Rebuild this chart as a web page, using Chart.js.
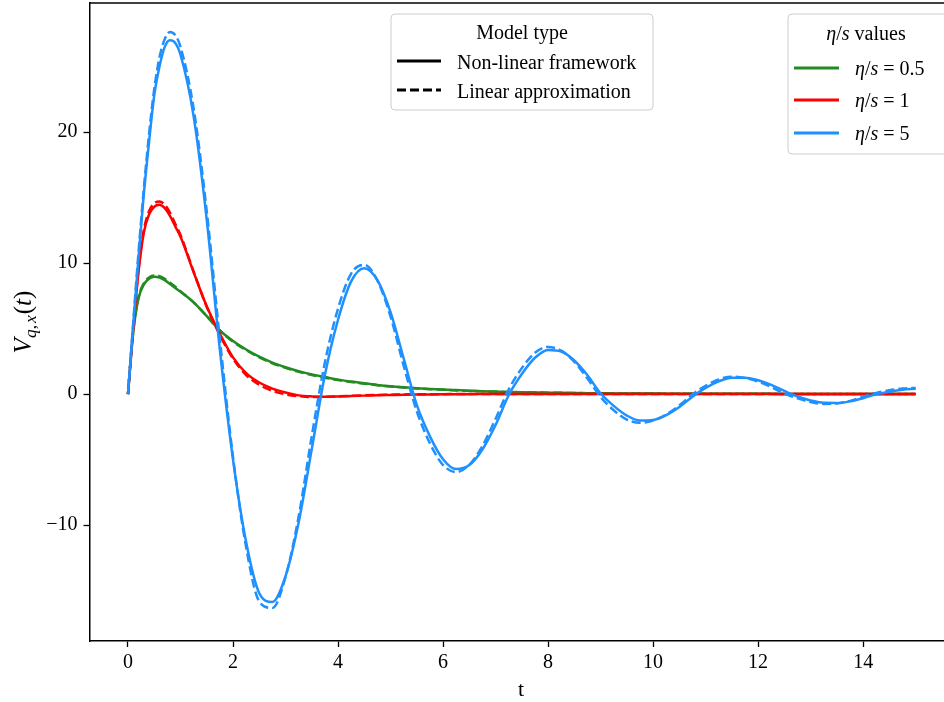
<!DOCTYPE html>
<html>
<head>
<meta charset="utf-8">
<script src="https://cdn.jsdelivr.net/npm/chart.js@4.4.1/dist/chart.umd.min.js"></script>
<style>
  html, body { margin: 0; padding: 0; background: #fff; }
  #wrap { width: 944px; height: 702px; }
</style>
</head>
<body>
<div id="wrap"><canvas id="responseChart" width="944" height="702"></canvas></div>
<script>
// time samples (denser near t = 0 where the curves rise fast)
const tValues = [
    0, 0.1, 0.2, 0.3, 0.4, 0.5, 0.6, 0.7, 0.8, 0.9, 1.0,
    1.25, 1.5, 1.75, 2.0,
    2.25, 2.5, 2.75, 3.0,
    3.25, 3.5, 3.75, 4.0,
    4.25, 4.5, 4.75, 5.0,
    5.25, 5.5, 5.75, 6.0,
    6.25, 6.5, 6.75, 7.0,
    7.25, 7.5, 7.75, 8.0,
    8.25, 8.5, 8.75, 9.0,
    9.25, 9.5, 9.75, 10.0,
    10.25, 10.5, 10.75, 11.0,
    11.25, 11.5, 11.75, 12.0,
    12.25, 12.5, 12.75, 13.0,
    13.25, 13.5, 13.75, 14.0,
    14.25, 14.5, 14.75, 15.0
];

// eta/s = 0.5
const nonLinear05 = [
    0, 4.7, 7.3, 8.35, 8.8, 8.95, 8.9, 8.7, 8.4, 8.1, 7.8,
    7.0, 5.95, 4.85, 4.05,
    3.4, 2.85, 2.4, 2.05,
    1.75, 1.5, 1.3, 1.1,
    0.95, 0.82, 0.7, 0.6,
    0.52, 0.45, 0.39, 0.34,
    0.3, 0.26, 0.22, 0.19,
    0.16, 0.14, 0.12, 0.1,
    0.09, 0.08, 0.07, 0.06,
    0.05, 0.045, 0.04, 0.035,
    0.03, 0.03, 0.025, 0.02,
    0.02, 0.02, 0.015, 0.015,
    0.015, 0.01, 0.01, 0.01,
    0.01, 0.01, 0.005, 0.005,
    0.005, 0.005, 0.005, 0.005
];
const linear05 = [
    0, 4.8, 7.4, 8.45, 8.9, 9.05, 9.0, 8.8, 8.5, 8.2, 7.85,
    7.0, 5.95, 4.85, 4.0,
    3.35, 2.8, 2.35, 2.0,
    1.7, 1.45, 1.25, 1.07,
    0.92, 0.79, 0.68, 0.58,
    0.5, 0.43, 0.37, 0.33,
    0.28, 0.24, 0.21, 0.18,
    0.16, 0.14, 0.12, 0.1,
    0.09, 0.08, 0.07, 0.06,
    0.05, 0.045, 0.04, 0.035,
    0.03, 0.03, 0.025, 0.02,
    0.02, 0.02, 0.015, 0.015,
    0.015, 0.01, 0.01, 0.01,
    0.01, 0.01, 0.005, 0.005,
    0.005, 0.005, 0.005, 0.005
];

// eta/s = 1
const nonLinear1 = [
    0, 5.0, 9.3, 12.3, 13.7, 14.3, 14.45, 14.2, 13.6, 12.8, 12.0,
    9.3, 6.7, 4.6, 2.8,
    1.6, 0.88, 0.42, 0.12,
    -0.1, -0.18, -0.2, -0.18,
    -0.15, -0.12, -0.09, -0.07,
    -0.05, -0.04, -0.03, -0.02,
    -0.01, -0.01, 0, 0,
    0, 0, 0, 0,
    0, 0, 0, 0,
    0, 0, 0, 0,
    0, 0, 0, 0,
    0, 0, 0, 0,
    0, 0, 0, 0,
    0, 0, 0, 0,
    0, 0, 0, 0
];
const linear1 = [
    0, 5.1, 9.5, 12.5, 13.95, 14.55, 14.7, 14.45, 13.85, 13.0, 12.15,
    9.35, 6.65, 4.5, 2.7,
    1.45, 0.7, 0.25, -0.02,
    -0.16, -0.22, -0.21, -0.18,
    -0.14, -0.1, -0.07, -0.05,
    -0.03, -0.02, -0.01, -0.01,
    0, 0, 0, 0,
    0, 0, 0, 0,
    0, 0, 0, 0,
    0, 0, 0, 0,
    0, 0, 0, 0,
    0, 0, 0, 0,
    0, 0, 0, 0,
    0, 0, 0, 0,
    0, 0, 0, 0
];

// eta/s = 5
const nonLinear5 = [
    0, 5.3, 10.4, 15.2, 19.2, 22.8, 25.0, 26.5, 27.0, 26.8, 25.9,
    21.2, 13.3, 3.35, -5.0,
    -11.3, -15.2, -15.87, -13.9,
    -9.8, -4.2, 1.46, 5.67,
    8.6, 9.6, 8.69, 6.25,
    2.72, -0.83, -3.23, -4.98,
    -5.73, -5.42, -4.23, -2.36,
    -0.09, 1.53, 2.77, 3.37,
    3.25, 2.56, 1.43, 0.06,
    -0.9, -1.64, -2.02, -1.98,
    -1.61, -0.99, -0.2, 0.47,
    0.97, 1.25, 1.25, 1.05,
    0.7, 0.24, -0.19, -0.49,
    -0.67, -0.68, -0.56, -0.32,
    -0.02, 0.18, 0.33, 0.4
];
const linear5 = [
    0, 5.5, 10.8, 15.6, 19.8, 23.3, 25.7, 27.1, 27.64, 27.4, 26.5,
    21.8, 13.95, 4.16, -4.8,
    -11.7, -15.84, -16.33, -13.96,
    -9.35, -3.2, 2.41, 6.52,
    9.2, 9.86, 8.66, 5.92,
    2.16, -1.31, -3.76, -5.42,
    -5.95, -5.39, -3.96, -1.9,
    0.35, 1.98, 3.15, 3.6,
    3.31, 2.46, 1.18, -0.22,
    -1.24, -1.95, -2.2, -2.03,
    -1.56, -0.86, -0.02, 0.63,
    1.12, 1.32, 1.23, 0.96,
    0.54, 0.04, -0.33, -0.61,
    -0.75, -0.72, -0.52, -0.2,
    0.09, 0.29, 0.42, 0.47
];

const etaValues = ['0.5', '1', '5'];
const modelTypes = ['Non-linear framework', 'Linear approximation'];
const xTicks = [0, 2, 4, 6, 8, 10, 12, 14];
const yTicks = [-10, 0, 10, 20];

const lineColors = ['#228b22', '#ff0000', '#1e90ff'];
const dashPattern = [9, 4];
const serif = "'Liberation Serif', 'DejaVu Serif', serif";

function seriesPoints(values) {
    return tValues.map((t, i) => ({ x: t, y: values[i] }));
}

function makeLine(values, color, dashed, order) {
    return {
        data: seriesPoints(values),
        borderColor: color,
        borderWidth: 2.5,
        borderDash: dashed ? dashPattern : [],
        pointRadius: 0,
        fill: false,
        cubicInterpolationMode: 'monotone',
        order: order
    };
}

// runs of text with italic / sub parts (mathtext look)
function runsWidth(ctx, runs) {
    let w = 0;
    runs.forEach(r => {
        ctx.font = (r.italic ? 'italic ' : '') + r.size + 'px ' + serif;
        w += ctx.measureText(r.text).width + (r.gap || 0);
    });
    return w;
}

function drawRuns(ctx, runs, x, y) {
    let cx = x;
    runs.forEach(r => {
        ctx.font = (r.italic ? 'italic ' : '') + r.size + 'px ' + serif;
        ctx.fillText(r.text, cx, y + (r.dy || 0));
        cx += ctx.measureText(r.text).width + (r.gap || 0);
    });
}

function legendBox(ctx, x, y, w, h) {
    const r = 4;
    ctx.save();
    ctx.beginPath();
    ctx.moveTo(x + r, y);
    ctx.arcTo(x + w, y, x + w, y + h, r);
    ctx.arcTo(x + w, y + h, x, y + h, r);
    ctx.arcTo(x, y + h, x, y, r);
    ctx.arcTo(x, y, x + w, y, r);
    ctx.closePath();
    ctx.fillStyle = 'rgba(255,255,255,0.8)';
    ctx.fill();
    ctx.strokeStyle = '#cccccc';
    ctx.lineWidth = 1;
    ctx.stroke();
    ctx.restore();
}

function sampleLine(ctx, x1, x2, y, color, dashed) {
    ctx.save();
    ctx.beginPath();
    ctx.setLineDash(dashed ? dashPattern : []);
    ctx.strokeStyle = color;
    ctx.lineWidth = 3;
    ctx.moveTo(x1, y);
    ctx.lineTo(x2, y);
    ctx.stroke();
    ctx.restore();
}

function etaRuns(tail, size) {
    return [
        { text: 'η', italic: true, size: size },
        { text: '/', size: size },
        { text: 's', italic: true, size: size },
        { text: tail, size: size }
    ];
}

const decorPlugin = {
    id: 'decor',
    afterDraw(chart) {
        const ctx = chart.ctx;
        const area = chart.chartArea;
        ctx.save();

        // top spine
        ctx.strokeStyle = '#000';
        ctx.lineWidth = 1.5;
        ctx.beginPath();
        ctx.moveTo(area.left, area.top);
        ctx.lineTo(area.right, area.top);
        ctx.stroke();

        ctx.textBaseline = 'alphabetic';

        // legend: model type
        legendBox(ctx, 391, 14, 262, 96);
        ctx.fillStyle = '#000';
        ctx.textAlign = 'center';
        ctx.font = '20px ' + serif;
        ctx.fillText('Model type', 522, 39);
        ctx.textAlign = 'left';
        sampleLine(ctx, 397, 441, 61, '#000', false);
        sampleLine(ctx, 397, 441, 90, '#000', true);
        ctx.fillStyle = '#000';
        ctx.font = '20px ' + serif;
        ctx.fillText(modelTypes[0], 457, 69);
        ctx.fillText(modelTypes[1], 457, 98);

        // legend: eta/s values
        legendBox(ctx, 788, 14, 160, 140);
        ctx.fillStyle = '#000';
        const title = etaRuns(' values', 20);
        drawRuns(ctx, title, 866 - runsWidth(ctx, title) / 2, 40);
        const rowY = [68, 100, 133];
        etaValues.forEach((v, i) => {
            sampleLine(ctx, 794, 839, rowY[i], lineColors[i], false);
            ctx.fillStyle = '#000';
            const runs = etaRuns('', 20).concat([
                { text: ' = ', size: 20 },
                { text: v, size: 20 }
            ]);
            drawRuns(ctx, runs, 855, rowY[i] + 7);
        });

        // x axis title
        ctx.textAlign = 'center';
        ctx.font = '22px ' + serif;
        ctx.fillText('t', 521, 696);

        // y axis title V_{q,x}(t)
        ctx.textAlign = 'left';
        ctx.translate(31, 322);
        ctx.rotate(-Math.PI / 2);
        const yRuns = [
            { text: 'V', italic: true, size: 25 },
            { text: 'q', italic: true, size: 17.5, dy: 5 },
            { text: ',', size: 17.5, dy: 5, gap: 2 },
            { text: 'x', italic: true, size: 17.5, dy: 5, gap: 1 },
            { text: '(', size: 25 },
            { text: 't', italic: true, size: 25 },
            { text: ')', size: 25 }
        ];
        drawRuns(ctx, yRuns, -runsWidth(ctx, yRuns) / 2, 0);

        ctx.restore();
    }
};

const tickFont = { family: serif, size: 20 };

new Chart(document.getElementById('responseChart'), {
    type: 'line',
    data: {
        datasets: [
            makeLine(nonLinear05, lineColors[0], false, 5),
            makeLine(linear05, lineColors[0], true, 4),
            makeLine(nonLinear1, lineColors[1], false, 3),
            makeLine(linear1, lineColors[1], true, 2),
            makeLine(nonLinear5, lineColors[2], false, 1),
            makeLine(linear5, lineColors[2], true, 0)
        ]
    },
    options: {
        responsive: false,
        animation: false,
        devicePixelRatio: 1,
        layout: { padding: { top: 3, right: 0, bottom: 0, left: 0 } },
        plugins: {
            legend: { display: false },
            tooltip: { enabled: false }
        },
        scales: {
            x: {
                type: 'linear',
                min: -0.733,
                max: 15.54,
                afterBuildTicks: s => { s.ticks = xTicks.map(v => ({ value: v })); },
                afterFit: s => { s.height = 61; s.paddingLeft = 0; s.paddingRight = 0; },
                ticks: { font: tickFont, color: '#000', padding: 4, maxRotation: 0, autoSkip: false },
                grid: { drawOnChartArea: false, drawTicks: true, tickLength: 6, tickWidth: 1.3, tickColor: '#000' },
                border: { display: true, color: '#000', width: 1.5 }
            },
            y: {
                type: 'linear',
                min: -18.85,
                max: 29.85,
                afterBuildTicks: s => { s.ticks = yTicks.map(v => ({ value: v })); },
                afterFit: s => { s.width = 89.5; s.paddingTop = 0; s.paddingBottom = 0; },
                ticks: {
                    font: tickFont,
                    color: '#000',
                    padding: 6,
                    autoSkip: false,
                    callback: v => v < 0 ? '\u2212' + Math.abs(v) : String(v)
                },
                grid: { drawOnChartArea: false, drawTicks: true, tickLength: 6, tickWidth: 1.3, tickColor: '#000' },
                border: { display: true, color: '#000', width: 1.5 }
            }
        }
    },
    plugins: [decorPlugin]
});
</script>
</body>
</html>
